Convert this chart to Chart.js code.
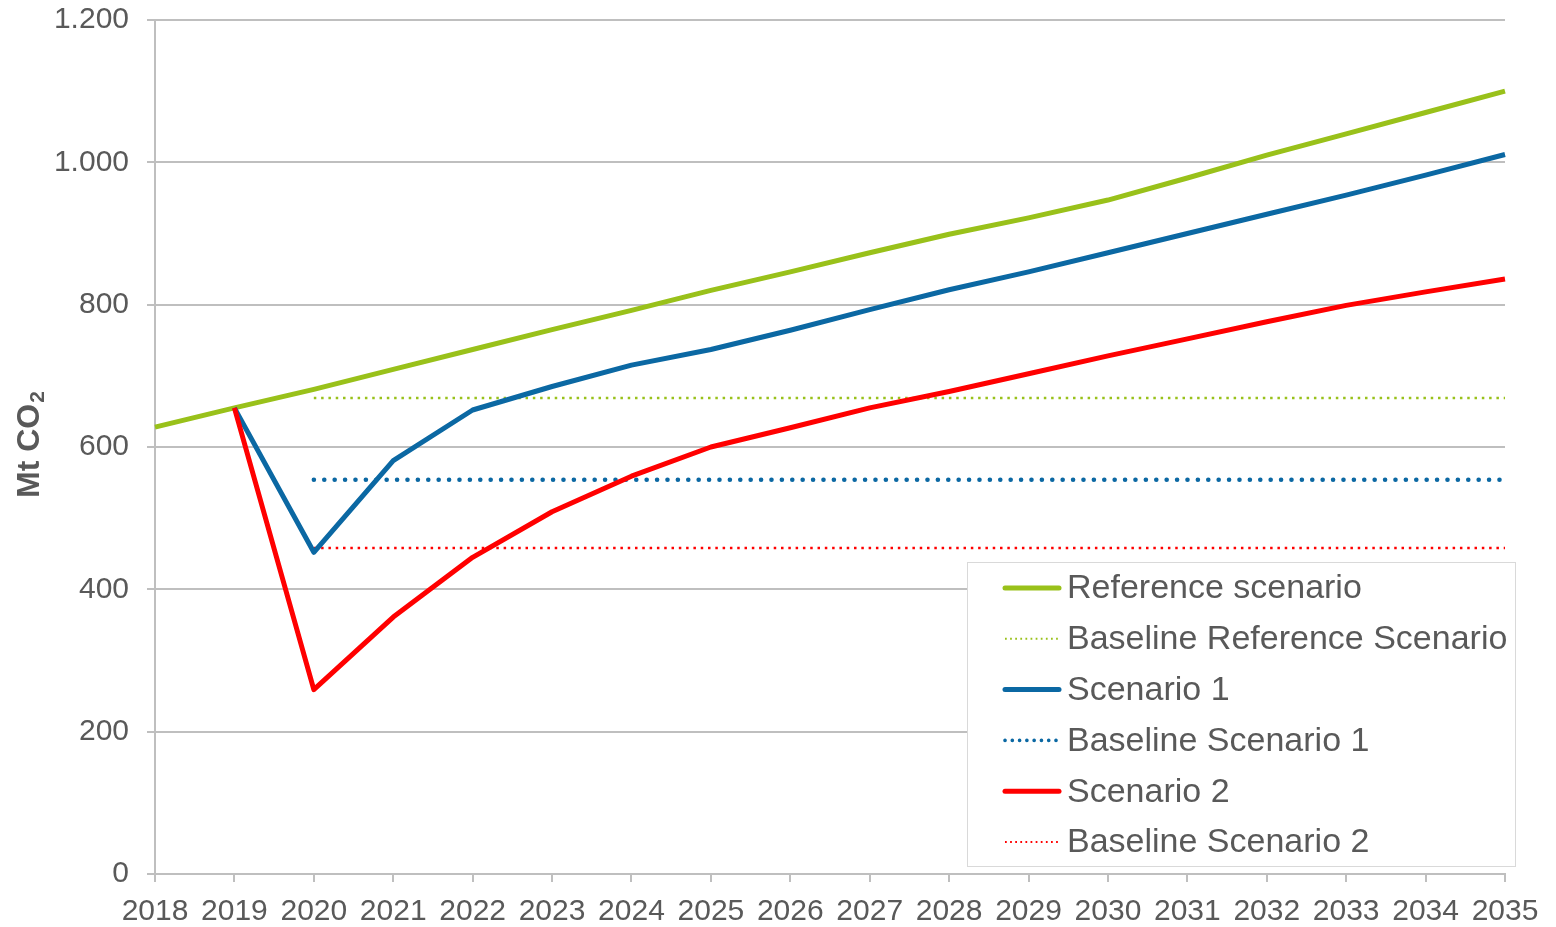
<!DOCTYPE html>
<html>
<head>
<meta charset="utf-8">
<script src="https://cdn.jsdelivr.net/npm/chart.js@4.4.1/dist/chart.umd.min.js"></script>
<style>
  html, body { margin: 0; padding: 0; background: #fff; }
  #wrap { width: 1556px; height: 927px; }
</style>
</head>
<body>
<div id="wrap"><canvas id="grafico"></canvas></div>
<script>
const anios = ["2018","2019","2020","2021","2022","2023","2024","2025","2026","2027","2028","2029","2030","2031","2032","2033","2034","2035"];
const referencia = [628, 655, 681, 709, 737, 765, 792, 820, 846, 873, 899, 922, 947, 978, 1010, 1040, 1070, 1100];
const escenario1 = [null, 655, 452, 581, 652, 685, 715, 737, 764, 793, 821, 846, 873, 900, 927, 954, 982, 1011];
const escenario2 = [null, 655, 259, 361, 445, 509, 559, 600, 627, 655, 678, 703, 728, 752, 776, 799, 818, 836];
const baseRef = [null, null, 669, 669, 669, 669, 669, 669, 669, 669, 669, 669, 669, 669, 669, 669, 669, 669];
const base1 = [null, null, 554, 554, 554, 554, 554, 554, 554, 554, 554, 554, 554, 554, 554, 554, 554, 554];
const base2 = [null, null, 458, 458, 458, 458, 458, 458, 458, 458, 458, 458, 458, 458, 458, 458, 458, 458];
const yTicks = [0, 200, 400, 600, 800, 1000, 1200];

const verde = "#99c11a";
const azul = "#0b68a3";
const rojo = "#ff0000";
const gris = "#595959";
const fuente = "'Liberation Sans', Arial, sans-serif";

// legend drawn inside the plot like the original
const leyendaCaja = {
    id: "leyendaCaja",
    afterDraw(chart) {
        const ctx = chart.ctx;
        const x0 = 967, y0 = 562, w = 548, h = 304;
        ctx.save();
        ctx.fillStyle = "#fff";
        ctx.fillRect(x0, y0, w, h);
        ctx.strokeStyle = "#d9d9d9";
        ctx.lineWidth = 1;
        ctx.strokeRect(x0 + 0.5, y0 + 0.5, w, h);
        ctx.font = "34px " + fuente;
        ctx.textBaseline = "middle";
        chart.data.datasets.forEach((ds, i) => {
            const y = y0 + 26 + i * 50.8;
            ctx.strokeStyle = ds.borderColor;
            ctx.lineWidth = ds.borderDash ? ds.borderWidth * 0.8 : ds.borderWidth;
            ctx.setLineDash(ds.borderDash ? ds.borderDash.map(d => d * 0.7) : []);
            ctx.lineCap = ds.borderCapStyle || "round";
            ctx.beginPath();
            ctx.moveTo(1005, y);
            ctx.lineTo(1059, y);
            ctx.stroke();
            ctx.setLineDash([]);
            ctx.fillStyle = gris;
            ctx.fillText(ds.label, 1067, y + 1);
        });
        ctx.restore();
    }
};

// y title with a real subscript
const tituloY = {
    id: "tituloY",
    afterDraw(chart) {
        const ctx = chart.ctx;
        ctx.save();
        ctx.translate(30, 445);
        ctx.rotate(-Math.PI / 2);
        ctx.fillStyle = gris;
        ctx.textBaseline = "middle";
        ctx.font = "bold 32px " + fuente;
        const base = "Mt CO";
        const wBase = ctx.measureText(base).width;
        ctx.font = "bold 21px " + fuente;
        const wSub = ctx.measureText("2").width;
        const x = -(wBase + wSub) / 2;
        ctx.font = "bold 32px " + fuente;
        ctx.fillText(base, x, 0);
        ctx.font = "bold 21px " + fuente;
        ctx.fillText("2", x + wBase + 1, 8);
        ctx.restore();
    }
};

new Chart(document.getElementById("grafico"), {
    type: "line",
    data: {
        labels: anios,
        datasets: [
            { label: "Reference scenario", data: referencia, borderColor: verde, borderWidth: 5, order: 3 },
            { label: "Baseline Reference Scenario", data: baseRef, borderColor: verde, borderWidth: 2.5, borderDash: [2.5, 4.8], borderCapStyle: "butt", order: 6 },
            { label: "Scenario 1", data: escenario1, borderColor: azul, borderWidth: 5, order: 2 },
            { label: "Baseline Scenario 1", data: base1, borderColor: azul, borderWidth: 4.5, borderDash: [0.1, 10.3], borderCapStyle: "round", order: 5 },
            { label: "Scenario 2", data: escenario2, borderColor: rojo, borderWidth: 5, order: 1 },
            { label: "Baseline Scenario 2", data: base2, borderColor: rojo, borderWidth: 2.5, borderDash: [2.5, 4.8], borderCapStyle: "butt", order: 4 }
        ]
    },
    options: {
        responsive: true,
        maintainAspectRatio: false,
        animation: false,
        elements: {
            point: { radius: 0, hoverRadius: 0 },
            line: { tension: 0, fill: false, borderJoinStyle: "round" }
        },
        layout: { padding: { top: 20, right: 51, left: 0, bottom: 0 } },
        plugins: {
            legend: { display: false },
            tooltip: { enabled: false }
        },
        scales: {
            x: {
                offset: false,
                grid: { display: true, drawOnChartArea: false, drawTicks: true, tickLength: 8, color: "#bfbfbf", lineWidth: 2 },
                border: { display: true, color: "#bfbfbf", width: 2 },
                ticks: { color: gris, font: { size: 30, family: fuente }, padding: 12, maxRotation: 0, autoSkip: false },
                afterFit: s => { s.height = 53; s.paddingLeft = 0; s.paddingRight = 0; }
            },
            y: {
                min: 0,
                max: 1200,
                afterBuildTicks: s => { s.ticks = yTicks.map(v => ({ value: v })); },
                grid: { color: "#bfbfbf", lineWidth: 2, tickLength: 8 },
                border: { display: true, color: "#bfbfbf", width: 2 },
                ticks: {
                    color: gris,
                    font: { size: 30, family: fuente },
                    padding: 18,
                    callback: v => String(v).replace(/\B(?=(\d{3})+(?!\d))/g, ".")
                },
                afterFit: s => { s.width = 155; s.paddingTop = 0; s.paddingBottom = 0; }
            }
        }
    },
    plugins: [leyendaCaja, tituloY]
});
</script>
</body>
</html>
